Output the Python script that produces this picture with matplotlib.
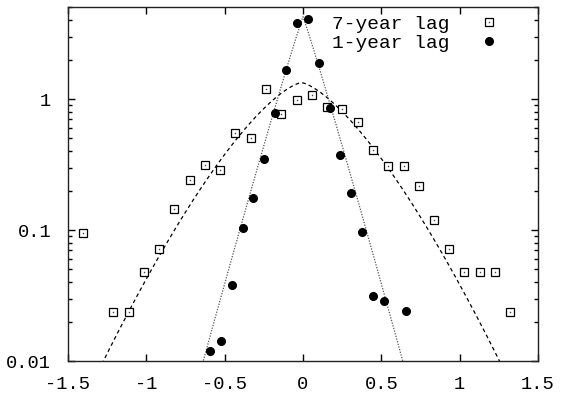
import numpy as np
import matplotlib
matplotlib.use("Agg")
import matplotlib.pyplot as plt
from matplotlib.ticker import LogLocator, FixedLocator, FixedFormatter, NullFormatter
from matplotlib.lines import Line2D

plt.rcParams['font.family'] = ['Liberation Mono', 'DejaVu Sans Mono']
plt.rcParams['axes.unicode_minus'] = False

# 7-year lag data (squares)
lag7_x = [-1.406, -1.211, -1.112, -1.017, -0.919, -0.825, -0.723, -0.625, -0.530, -0.432,
          -0.334, -0.236, -0.140, -0.040, 0.0555, 0.151, 0.249, 0.349, 0.447, 0.544,
          0.643, 0.740, 0.834, 0.934, 1.029, 1.128, 1.225, 1.323]
lag7_y = [0.0953, 0.0238, 0.0238, 0.0475, 0.0716, 0.144, 0.240, 0.312, 0.287, 0.553,
          0.507, 1.186, 0.768, 0.983, 1.078, 0.864, 0.839, 0.671, 0.408, 0.310,
          0.310, 0.216, 0.120, 0.0716, 0.0475, 0.0475, 0.0475, 0.0238]

# 1-year lag data (filled circles)
lag1_x = [-0.596, -0.525, -0.455, -0.386, -0.317, -0.247, -0.179, -0.108, -0.040,
          0.030, 0.102, 0.170, 0.238, 0.308, 0.378, 0.447, 0.517, 0.655]
lag1_y = [0.0120, 0.0143, 0.0382, 0.103, 0.177, 0.348, 0.778, 1.66, 3.78,
          4.08, 1.87, 0.859, 0.376, 0.191, 0.096, 0.0312, 0.0287, 0.0239]

# fitted curves: log10 y = peak - k*|x - x0|**beta
fit7 = dict(peak=0.125, x0=-0.01, k=1.52, beta=1.43)
fit1 = dict(peak=0.628, x0=0.0, k=4.22, beta=1.05)

xticks = [-1.5, -1, -0.5, 0, 0.5, 1, 1.5]
xticklabels = ['-1.5', '-1', '-0.5', '0', '0.5', '1', '1.5']
yticks = [0.01, 0.1, 1]
yticklabels = ['0.01', '0.1', '1']

fig = plt.figure(figsize=(5.62, 3.94), dpi=100)
ax = fig.add_axes([68/562, 1-361/394, 470/562, 354/394])

def curve(p, x):
    return 10 ** (p['peak'] - p['k'] * np.abs(x - p['x0']) ** p['beta'])

xx = np.linspace(-1.5, 1.5, 1201)
ax.plot(xx, curve(fit7, xx), color='black', lw=0.9, linestyle=(0, (3, 2.5)))
ax.plot(xx, curve(fit1, xx), color='#555555', lw=0.9, linestyle=(0, (1, 1.2)))

ax.plot(lag7_x, lag7_y, linestyle='none', marker='s', ms=5.2, mfc='white',
        mec='black', mew=0.9)
ax.plot(lag7_x, lag7_y, linestyle='none', marker='s', ms=1.0, mfc='#444444',
        mec='none')
ax.plot(lag1_x, lag1_y, linestyle='none', marker='o', ms=5.5, mfc='black',
        mec='black')

ax.set_xscale('linear')
ax.set_yscale('log')
ax.set_xlim(-1.5, 1.5)
ax.set_ylim(0.01, 5.04)

ax.xaxis.set_major_locator(FixedLocator(xticks))
ax.xaxis.set_major_formatter(FixedFormatter(xticklabels))
ax.yaxis.set_major_locator(FixedLocator(yticks))
ax.yaxis.set_major_formatter(FixedFormatter(yticklabels))
ax.yaxis.set_minor_locator(LogLocator(base=10, subs=np.arange(2, 10)))
ax.yaxis.set_minor_formatter(NullFormatter())

ax.tick_params(axis='both', which='major', direction='in', top=True, right=True,
               length=5, width=1, labelsize=13.5, colors='black')
ax.tick_params(axis='both', which='minor', direction='in', top=True, right=True,
               length=3, width=1)
ax.tick_params(axis='x', which='major', pad=11)
ax.tick_params(axis='y', which='major', pad=12)
for s in ax.spines.values():
    s.set_linewidth(1)
    s.set_color('#222222')

h7 = (Line2D([], [], linestyle='none', marker='s', ms=5.2, mfc='white', mec='black', mew=0.9),
      Line2D([], [], linestyle='none', marker='s', ms=1.0, mfc='#444444', mec='none'))
h1 = Line2D([], [], linestyle='none', marker='o', ms=5.5, mfc='black', mec='black')
ax.legend([h7, h1], ['7-year lag', '1-year lag'], loc='upper right',
          bbox_to_anchor=(0.952, 1.009), frameon=False, markerfirst=False,
          fontsize=14, handlelength=1.5, handletextpad=1.3, labelspacing=0.05,
          borderaxespad=0.2)

fig.savefig('out.png', dpi=100)
